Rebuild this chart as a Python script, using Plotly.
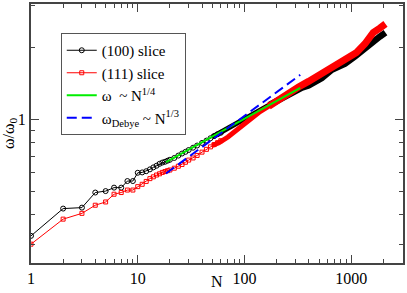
import plotly.graph_objects as go

# (100) slice – sparse part (individual markers)
black_N = [1, 2, 3, 4, 5, 6, 7, 8, 9, 10, 11, 12, 13, 14, 15, 16, 17, 18, 19, 20,
           22, 24, 26, 28, 30, 33, 36, 40, 44, 48, 52, 56, 60]
black_w = [0.325, 0.423, 0.427, 0.494, 0.501, 0.518, 0.518, 0.552, 0.552, 0.598,
           0.600, 0.607, 0.618, 0.630, 0.640, 0.652, 0.660, 0.665, 0.672, 0.678,
           0.690, 0.706, 0.720, 0.732, 0.745, 0.762, 0.778, 0.798, 0.816, 0.835,
           0.853, 0.868, 0.880]
# (100) slice – dense part (overlapping markers form a thick band)
black_band1_N = [50, 60, 80, 100, 130, 170, 200]
black_band1_w = [0.845, 0.885, 0.955, 1.010, 1.075, 1.150, 1.198]
black_band2_N = [170, 220, 280, 345, 398, 450, 530, 657, 760, 875, 1084, 1344,
                 1607, 1855, 2093]
black_band2_w = [1.150, 1.230, 1.300, 1.360, 1.388, 1.430, 1.494, 1.619, 1.670,
                 1.715, 1.840, 1.995, 2.147, 2.230, 2.318]

# (111) slice
red_N = [1, 2, 3, 4, 5, 6, 7, 8, 9, 10, 11, 12, 13, 14, 15, 16, 17, 18, 19, 20,
         22, 24, 26, 28, 30, 33, 36, 40, 44, 48, 52, 56, 60]
red_w = [0.300, 0.382, 0.404, 0.437, 0.451, 0.486, 0.494, 0.506, 0.506, 0.523,
         0.535, 0.550, 0.565, 0.575, 0.585, 0.592, 0.600, 0.605, 0.610, 0.614,
         0.625, 0.637, 0.648, 0.662, 0.676, 0.690, 0.707, 0.730, 0.750, 0.768,
         0.785, 0.800, 0.815]
red_band1_N = [50, 58, 70, 80, 95, 120, 140, 169, 200]
red_band1_w = [0.778, 0.800, 0.845, 0.885, 0.950, 1.020, 1.080, 1.137, 1.200]
red_band2_N = [169, 200, 250, 321, 398, 493, 611, 758, 939, 1122, 1344, 1497,
               1607, 1855, 2093]
red_band2_w = [1.137, 1.200, 1.275, 1.370, 1.446, 1.528, 1.619, 1.699, 1.795,
               1.912, 2.080, 2.218, 2.318, 2.420, 2.520]

# power-law guide lines (end points)
fit14_N = [18.4, 333]
fit14_w = [0.663, 1.357]
debye_N = [18.4, 333]
debye_w = [0.594, 1.54]

x_tickvals = [1, 10, 100, 1000]
x_ticktext = ["1", "10", "100", "1000"]

SERIF = "Liberation Serif"
BLACK = "black"
RED = "#ff0000"

fig = go.Figure()
fig.add_trace(go.Scatter(x=black_N, y=black_w, mode="lines+markers", name="(100) slice",
                         line=dict(color=BLACK, width=1),
                         marker=dict(symbol="circle-open", size=5, color=BLACK,
                                     line=dict(width=1)),
                         legendrank=1))
fig.add_trace(go.Scatter(x=black_band1_N, y=black_band1_w, mode="lines",
                         showlegend=False, line=dict(color=BLACK, width=5)))
fig.add_trace(go.Scatter(x=black_band2_N, y=black_band2_w, mode="lines",
                         showlegend=False, line=dict(color=BLACK, width=6.5)))
fig.add_trace(go.Scatter(x=red_N, y=red_w, mode="lines+markers", name="(111) slice",
                         line=dict(color=RED, width=1),
                         marker=dict(symbol="square-open", size=4, color=RED,
                                     line=dict(width=1)),
                         legendrank=2))
fig.add_trace(go.Scatter(x=red_band1_N, y=red_band1_w, mode="lines",
                         showlegend=False, line=dict(color=RED, width=5)))
fig.add_trace(go.Scatter(x=red_band2_N, y=red_band2_w, mode="lines",
                         showlegend=False, line=dict(color=RED, width=7)))
fig.add_trace(go.Scatter(x=fit14_N, y=fit14_w, mode="lines",
                         name="ω  ~ N<sup>1/4</sup>",
                         line=dict(color="#00ee00", width=2), legendrank=3))
fig.add_trace(go.Scatter(x=debye_N, y=debye_w, mode="lines",
                         name="ω<sub>Debye</sub> ~ N<sup>1/3</sup>",
                         line=dict(color="#0000ff", width=2, dash="10px,5px"),
                         legendrank=4))

axis_common = dict(type="log", showgrid=False, zeroline=False, showline=True,
                   linecolor="#444", linewidth=2, mirror="ticks",
                   ticks="inside", ticklen=8, tickwidth=1, tickcolor="#444",
                   tickfont=dict(family=SERIF, size=16, color="black"),
                   minor=dict(ticks="inside", ticklen=4, tickwidth=1,
                              tickcolor="#444", showgrid=False))

fig.update_xaxes(**axis_common, range=[0, 3.485], tickvals=x_tickvals,
                 ticktext=x_ticktext, minor_dtick="D1")
fig.update_yaxes(**axis_common, range=[-0.602, 0.485], dtick=1,
                 title=dict(text="ω/ω<sub>0</sub>",
                            font=dict(family=SERIF, size=16, color="black"),
                            standoff=3))

fig.add_annotation(text="N", xref="paper", yref="paper", x=0.5, y=0,
                   xanchor="center", yanchor="top", yshift=-9, borderpad=0,
                   showarrow=False,
                   font=dict(family=SERIF, size=16, color="black"))

fig.update_layout(
    width=407, height=293,
    margin=dict(l=31, r=2, t=4, b=30),
    paper_bgcolor="white", plot_bgcolor="white",
    showlegend=True,
    legend=dict(x=0.08, y=0.888, xanchor="left", yanchor="top",
                bgcolor="white", bordercolor="#555", borderwidth=1,
                font=dict(family=SERIF, size=15, color="black"),
                tracegroupgap=0, itemwidth=30),
)

fig.write_html("out.html",
               config={"displayModeBar": False},
               post_script="document.body.style.margin='0';"
                           "document.body.style.padding='0';")
